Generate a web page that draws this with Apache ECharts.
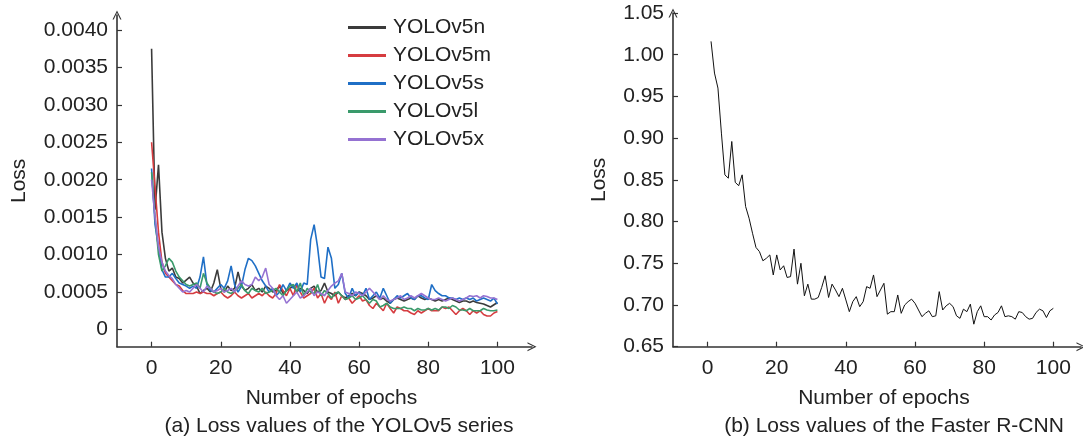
<!DOCTYPE html>
<html>
<head>
<meta charset="utf-8">
<title>Loss curves</title>
<script src="https://cdn.jsdelivr.net/npm/echarts@6/dist/echarts.min.js"></script>
<style>
  html, body { margin: 0; padding: 0; background: #fff; }
  #main { width: 1083px; height: 443px; }
</style>
</head>
<body>
<div id="main"></div>
<script>
// ---- data ----
var seriesNames = ['YOLOv5n', 'YOLOv5m', 'YOLOv5s', 'YOLOv5l', 'YOLOv5x'];
var seriesColors = ['#3b3b3b', '#d63c40', '#1f6fc6', '#3a9a6b', '#9572d2'];

// epochs 0..100
var lossV5n = [
  0.00375, 0.0016, 0.0022, 0.0013, 0.00095, 0.00078, 0.00082, 0.0007, 0.00068, 0.00062, 0.00066,
  0.0007, 0.00062, 0.00058, 0.00048, 0.00052, 0.00055, 0.0005, 0.00062, 0.0008, 0.00055,
  0.0005, 0.00058, 0.00052, 0.00055, 0.00077, 0.00058, 0.00052, 0.00055, 0.0006, 0.00052,
  0.00055, 0.0005, 0.00058, 0.00055, 0.0005, 0.00052, 0.00058, 0.00048, 0.00052, 0.00055,
  0.00058, 0.0005, 0.00055, 0.00052, 0.00048, 0.00055, 0.00058, 0.0005, 0.00052, 0.00062,
  0.0005, 0.00048, 0.00045, 0.0005, 0.00045, 0.00042, 0.00045, 0.00048, 0.00045, 0.0005,
  0.00048, 0.00045, 0.0004, 0.00042, 0.00045, 0.0004, 0.00042, 0.00038, 0.00035, 0.0004,
  0.00042, 0.0004, 0.00038, 0.0004, 0.00042, 0.0004, 0.00045, 0.00042, 0.0004, 0.00042,
  0.0004, 0.00038, 0.0004, 0.00038, 0.0004, 0.00042, 0.0004, 0.00038, 0.00036, 0.00038,
  0.00038, 0.00036, 0.00038, 0.00036, 0.00035, 0.00034, 0.00032, 0.0003, 0.00033, 0.00036
];
var lossV5m = [
  0.0025, 0.0019, 0.0013, 0.0009, 0.00075, 0.0007, 0.00065, 0.0006, 0.00058, 0.00052, 0.00048,
  0.00048, 0.00048, 0.0005, 0.00048, 0.0005, 0.00048, 0.00048, 0.00045, 0.00048, 0.0005,
  0.00045, 0.00042, 0.00045, 0.0005, 0.00045, 0.00042, 0.00045, 0.00048, 0.00042, 0.00045,
  0.00048, 0.00045, 0.0005, 0.00045, 0.00042, 0.00048, 0.0006, 0.00052, 0.00045, 0.00055,
  0.00045, 0.0006, 0.0005, 0.00042, 0.00045, 0.00048, 0.00055, 0.00042, 0.00048, 0.00035,
  0.00045, 0.0004, 0.0005, 0.00035, 0.00045, 0.0004, 0.00042, 0.00035, 0.0004, 0.00045,
  0.00038, 0.0004, 0.00032, 0.00028, 0.00035, 0.0003, 0.00025, 0.00035, 0.00028, 0.00022,
  0.0003, 0.00028, 0.00025, 0.00025, 0.00022, 0.0002, 0.00025, 0.00022, 0.00025, 0.00028,
  0.00025, 0.00025, 0.00025, 0.0003, 0.00028, 0.0003, 0.00025, 0.0002, 0.00025, 0.00028,
  0.00025, 0.0002, 0.00025, 0.00022, 0.00025, 0.0002, 0.00018, 0.00018, 0.00022, 0.00024
];
var lossV5s = [
  0.00215, 0.0014, 0.0011, 0.0008, 0.0007, 0.0007, 0.00075, 0.00068, 0.00062, 0.0006, 0.00058,
  0.00055, 0.00058, 0.00055, 0.0007, 0.00097, 0.0006, 0.00052, 0.0005, 0.00055, 0.0006,
  0.00055, 0.00065, 0.00085, 0.0006, 0.0005, 0.00058, 0.0008, 0.00095, 0.00092, 0.00085,
  0.00075, 0.00065, 0.00058, 0.0005, 0.00055, 0.00045, 0.0005, 0.0006, 0.00052, 0.00062,
  0.00055, 0.00062, 0.0005, 0.00062, 0.0006, 0.0012, 0.0014, 0.0011, 0.0007, 0.00068,
  0.0011, 0.00095, 0.00055, 0.0006, 0.00075, 0.00048, 0.00042, 0.00055, 0.00045, 0.0005,
  0.00045, 0.00055, 0.0004, 0.00045, 0.0005, 0.00042, 0.00055, 0.00045, 0.00035, 0.0004,
  0.00045, 0.00042, 0.00045, 0.00048, 0.00042, 0.0004, 0.00045, 0.00045, 0.00042, 0.0004,
  0.0006, 0.00052, 0.00048, 0.00045, 0.00045, 0.00042, 0.00042, 0.0004, 0.00042, 0.0004,
  0.00042, 0.0004, 0.00042, 0.00038, 0.0004, 0.00042, 0.0004, 0.00038, 0.00042, 0.00034
];
var lossV5l = [
  0.0021, 0.0015, 0.001, 0.00078, 0.00085, 0.00095, 0.0009, 0.00078, 0.0007, 0.00065, 0.0006,
  0.00058, 0.0006, 0.00062, 0.00055, 0.00075, 0.00062, 0.00055, 0.0005, 0.00048, 0.0005,
  0.00055, 0.0005, 0.00048, 0.00052, 0.00055, 0.0006, 0.00052, 0.00048, 0.00055, 0.00052,
  0.0005, 0.00055, 0.00048, 0.0005, 0.00052, 0.00055, 0.0005, 0.00045, 0.00052, 0.00058,
  0.0006, 0.0005, 0.00062, 0.00045, 0.00055, 0.0005, 0.00048, 0.0006, 0.00045, 0.00052,
  0.00048, 0.00042, 0.00048, 0.0005, 0.00045, 0.0004, 0.00042, 0.00045, 0.0004, 0.00042,
  0.00045, 0.0004, 0.00035, 0.0004, 0.00038, 0.0003, 0.00032, 0.00035, 0.0003, 0.00028,
  0.00028, 0.00028, 0.0003, 0.00028, 0.00028, 0.00025, 0.00028, 0.00026, 0.00026, 0.00028,
  0.00026, 0.00028, 0.00026, 0.0003, 0.0003, 0.00028, 0.00032, 0.0003, 0.00026, 0.00026,
  0.00025, 0.00028, 0.00025, 0.00025, 0.00025, 0.00028, 0.00026, 0.00025, 0.00025, 0.00026
];
var lossV5x = [
  0.002, 0.0015, 0.0011, 0.0009, 0.00078, 0.00072, 0.00068, 0.0006, 0.00055, 0.0005, 0.00052,
  0.0005, 0.00055, 0.0006, 0.00055, 0.0005, 0.00058, 0.00055, 0.0005, 0.00052, 0.00055,
  0.0005, 0.00052, 0.00055, 0.0005, 0.00058, 0.00065, 0.0006, 0.00058, 0.0006, 0.0007,
  0.00065, 0.0007, 0.00082, 0.0006, 0.00055, 0.00045, 0.0004, 0.00045, 0.00035, 0.0004,
  0.00045, 0.0005, 0.00042, 0.00045, 0.0005, 0.00055, 0.00045, 0.0005, 0.00048, 0.00045,
  0.00052, 0.00058, 0.00062, 0.00065, 0.00075, 0.0005, 0.00048, 0.00045, 0.0005, 0.00048,
  0.00045, 0.0005, 0.00055, 0.0005, 0.00045, 0.0004, 0.00045, 0.0004, 0.00038, 0.0004,
  0.00042, 0.00045, 0.0004, 0.00042, 0.00045, 0.00042, 0.00045, 0.00048, 0.00045, 0.00042,
  0.0004, 0.0004, 0.00042, 0.0004, 0.00038, 0.0004, 0.00042, 0.0004, 0.00038, 0.0004,
  0.00042, 0.00045, 0.00044, 0.00045, 0.00042, 0.00045, 0.00044, 0.00042, 0.00042, 0.0004
];

// Faster R-CNN, epochs 1..100
var lossFrcnn = [
  1.016, 0.978, 0.960, 0.906, 0.856, 0.852, 0.896, 0.847, 0.843, 0.856,
  0.818, 0.804, 0.786, 0.769, 0.764, 0.753, 0.756, 0.760, 0.736, 0.760,
  0.742, 0.747, 0.733, 0.734, 0.767, 0.725, 0.750, 0.711, 0.725, 0.707,
  0.707, 0.709, 0.721, 0.735, 0.709, 0.725, 0.718, 0.710, 0.720, 0.706,
  0.692, 0.704, 0.710, 0.698, 0.704, 0.722, 0.720, 0.736, 0.710, 0.718,
  0.726, 0.689, 0.692, 0.692, 0.712, 0.690, 0.700, 0.704, 0.707, 0.702,
  0.694, 0.686, 0.690, 0.693, 0.686, 0.687, 0.716, 0.694, 0.699, 0.702,
  0.698, 0.687, 0.684, 0.695, 0.692, 0.701, 0.677, 0.692, 0.699, 0.686,
  0.686, 0.682, 0.688, 0.691, 0.699, 0.686, 0.687, 0.686, 0.683, 0.692,
  0.691, 0.686, 0.683, 0.684, 0.691, 0.695, 0.693, 0.685, 0.693, 0.696
];

var epochTicks = [0, 20, 40, 60, 80, 100];
var yoloTicks = [0, 0.0005, 0.001, 0.0015, 0.002, 0.0025, 0.003, 0.0035, 0.004];
var frcnnTicks = [0.65, 0.7, 0.75, 0.8, 0.85, 0.9, 0.95, 1.0, 1.05];
var captions = ['(a) Loss values of the YOLOv5 series', '(b) Loss values of the Faster R-CNN'];

// ---- chart ----
var FONT = 'Liberation Sans, Arial, sans-serif';
var FS = 21;
var TXT = '#222';
var AXIS = '#333';
// open chevron used as the axis arrow
var arrowPath = 'path://M0,10 L5,0 L10,10 L8.6,10 L5,2.6 L1.4,10 Z';

function axisLineStyle() {
  return {
    show: true,
    onZero: false,
    symbol: ['none', arrowPath],
    symbolSize: [9, 9],
    lineStyle: { color: AXIS, width: 1.6 }
  };
}

function xAxisFor(gridIndex, max) {
  return {
    type: 'value', gridIndex: gridIndex,
    min: -10, max: max,
    name: 'Number of epochs', nameLocation: 'middle', nameGap: 41,
    nameTextStyle: { fontFamily: FONT, fontSize: FS, color: TXT, padding: [0, 0, 0, 14] },
    axisLine: axisLineStyle(),
    axisTick: { show: true, inside: true, length: 5, customValues: epochTicks, lineStyle: { color: AXIS, width: 1.2 } },
    axisLabel: { customValues: epochTicks, margin: 11, fontFamily: FONT, fontSize: FS, color: TXT },
    splitLine: { show: false }
  };
}

function yAxisFor(gridIndex, min, max, ticks, digits, gap) {
  return {
    type: 'value', gridIndex: gridIndex,
    min: min, max: max,
    name: 'Loss', nameLocation: 'middle', nameGap: gap, nameRotate: 90,
    nameTextStyle: { fontFamily: FONT, fontSize: FS, color: TXT },
    axisLine: axisLineStyle(),
    axisTick: { show: true, inside: true, length: 5, customValues: ticks, lineStyle: { color: AXIS, width: 1.2 } },
    axisLabel: {
      customValues: ticks, margin: 9, fontFamily: FONT, fontSize: FS, color: TXT,
      formatter: function (v) { return v === 0 ? '0' : v.toFixed(digits); }
    },
    splitLine: { show: false }
  };
}

var yoloData = [lossV5n, lossV5m, lossV5s, lossV5l, lossV5x];
var series = yoloData.map(function (arr, k) {
  return {
    name: seriesNames[k], type: 'line', xAxisIndex: 0, yAxisIndex: 0,
    symbol: 'none', color: seriesColors[k],
    lineStyle: { width: 1.6, color: seriesColors[k] },
    data: arr.map(function (v, i) { return [i, v]; })
  };
});
series.push({
  name: 'Faster R-CNN', type: 'line', xAxisIndex: 1, yAxisIndex: 1,
  symbol: 'none', color: '#111',
  lineStyle: { width: 1, color: '#111' },
  data: lossFrcnn.map(function (v, i) { return [i + 1, v]; })
});

var chart = echarts.init(document.getElementById('main'), null, { renderer: 'canvas' });
chart.setOption({
  animation: false,
  backgroundColor: '#fff',
  grid: [
    { left: 117, top: 15, width: 415, height: 331.7 },
    { left: 673, top: 13, width: 408, height: 333.7 }
  ],
  xAxis: [xAxisFor(0, 110), xAxisFor(1, 108)],
  yAxis: [
    yAxisFor(0, -0.00023, 0.0042, yoloTicks, 4, 87),
    yAxisFor(1, 0.65, 1.05, frcnnTicks, 2, 63)
  ],
  legend: {
    data: seriesNames,
    orient: 'vertical',
    left: 343, top: 12,
    itemWidth: 38, itemHeight: 3, itemGap: 7,
    icon: 'rect',
    textStyle: { fontFamily: FONT, fontSize: FS, color: TXT, lineHeight: 20, padding: [0, 0, 0, 2] }
  },
  graphic: [
    { type: 'text', x: 339, y: 426, style: { text: captions[0], font: FS + 'px ' + FONT, fill: TXT, align: 'center', verticalAlign: 'middle' } },
    { type: 'text', x: 894, y: 426, style: { text: captions[1], font: FS + 'px ' + FONT, fill: TXT, align: 'center', verticalAlign: 'middle' } }
  ],
  series: series
});
</script>
</body>
</html>
